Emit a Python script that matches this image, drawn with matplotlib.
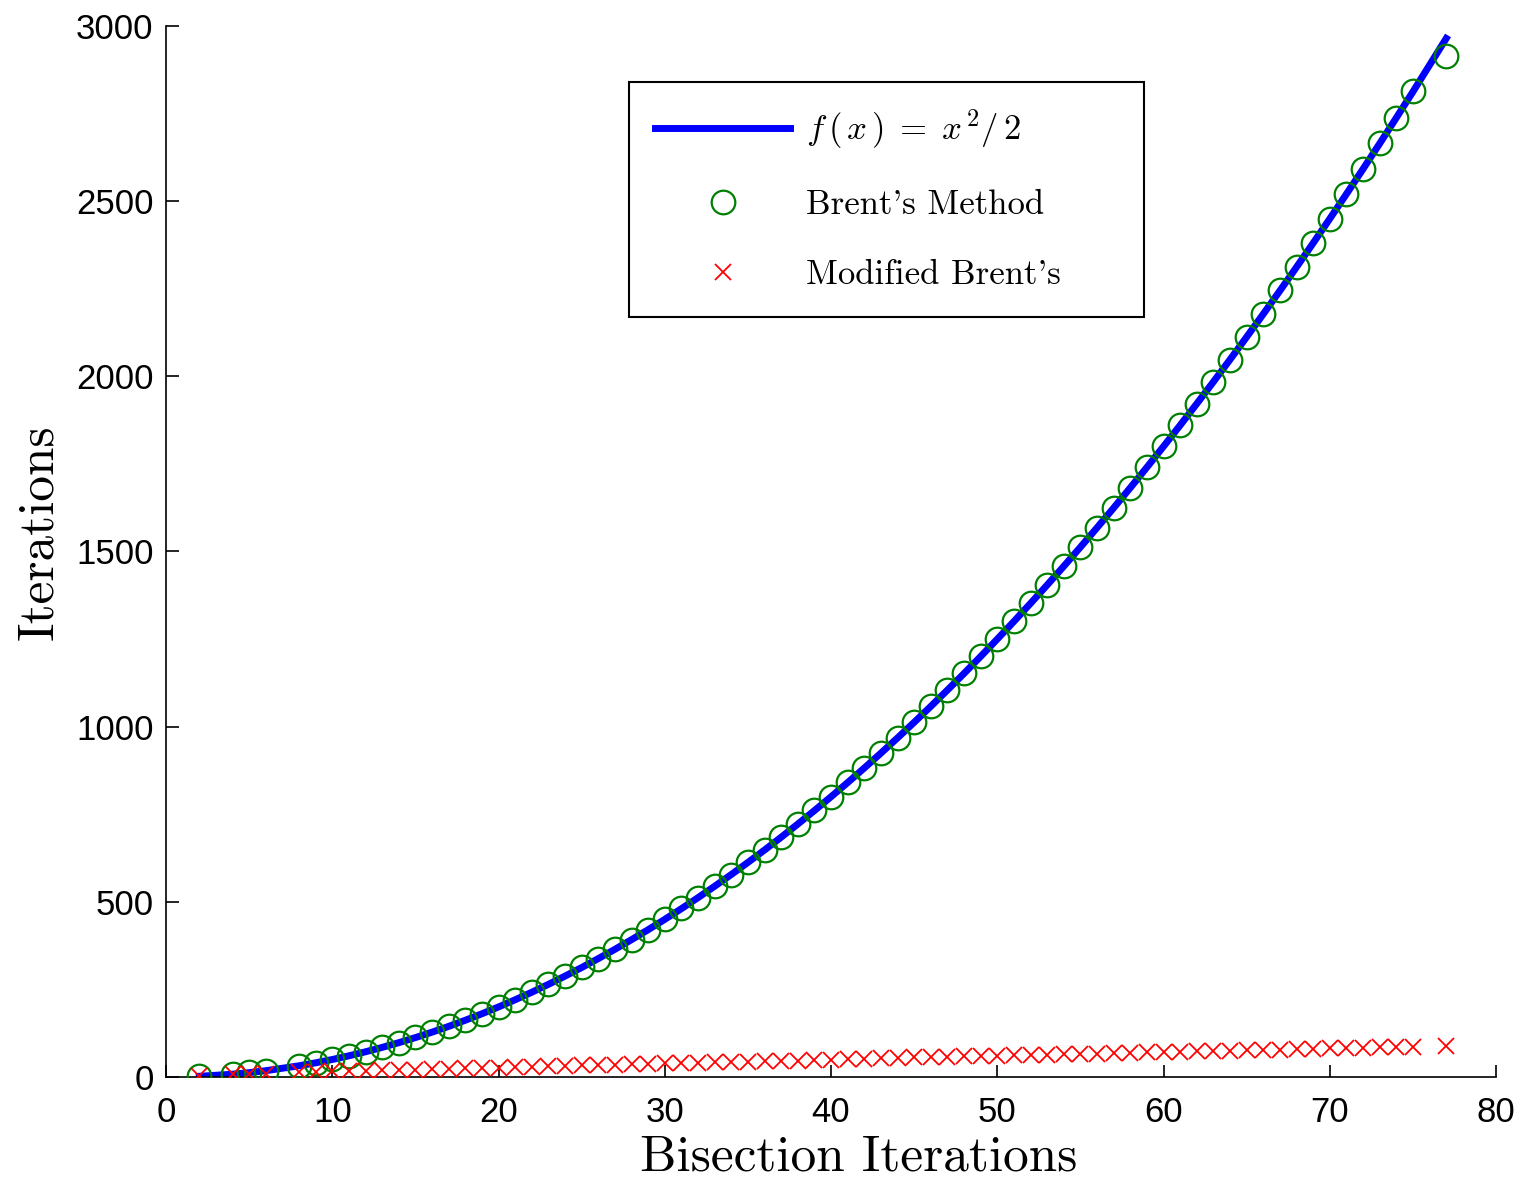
import numpy as np
import matplotlib
matplotlib.use("Agg")
import matplotlib.pyplot as plt

# ---- data ----
bisect_iters = [2, 4, 5, 6, 8, 9, 10, 11, 12, 13, 14, 15, 16, 17, 18, 19, 20,
                21, 22, 23, 24, 25, 26, 27, 28, 29, 30, 31, 32, 33, 34, 35, 36,
                37, 38, 39, 40, 41, 42, 43, 44, 45, 46, 47, 48, 49, 50, 51, 52,
                53, 54, 55, 56, 57, 58, 59, 60, 61, 62, 63, 64, 65, 66, 67, 68,
                69, 70, 71, 72, 73, 74, 75, 77]
brent_iters = [2, 8, 13, 18, 32, 41, 50, 61, 72, 85, 98, 113, 128, 145, 162,
               181, 200, 221, 242, 265, 288, 313, 338, 365, 392, 421, 450, 481,
               512, 545, 578, 613, 648, 685, 722, 761, 800, 841, 882, 925, 968,
               1013, 1058, 1105, 1152, 1201, 1250, 1301, 1352, 1405, 1458, 1513,
               1568, 1625, 1682, 1741, 1800, 1861, 1922, 1985, 2048, 2113, 2178,
               2245, 2312, 2381, 2450, 2521, 2592, 2665, 2738, 2813, 2915]
modified_iters = [3, 8, 9, 10, 13, 14, 16, 17, 18, 19, 20, 21, 22, 24, 25, 26,
                  27, 28, 29, 30, 31, 33, 34, 35, 36, 37, 39, 40, 41, 42, 43,
                  44, 45, 46, 47, 48, 49, 51, 52, 53, 54, 56, 57, 58, 59, 60,
                  61, 62, 63, 64, 65, 66, 67, 68, 69, 70, 71, 72, 73, 74, 75,
                  76, 77, 78, 79, 81, 82, 83, 84, 85, 86, 87, 88]
x_ticks = [0, 10, 20, 30, 40, 50, 60, 70, 80]
y_ticks = [0, 500, 1000, 1500, 2000, 2500, 3000]

x = np.array(bisect_iters, dtype=float)
fx = x ** 2 / 2.0  # the reference curve f(x) = x^2/2 named in the legend

plt.rcParams['mathtext.fontset'] = 'cm'

fig = plt.figure(figsize=(15.26, 11.86), dpi=100)
ax = fig.add_axes([0.1088, 0.0919, 0.8716, 0.8862])

ax.plot(x, fx, color='#0000ff', lw=5, label=r'$f\,(\,x\,)\;=\;x^{\,2}/\,2$', zorder=2)
ax.plot(bisect_iters, brent_iters, linestyle='none', marker='o',
        markersize=17, markerfacecolor='none', markeredgecolor='#008000',
        markeredgewidth=1.6, label="Brent's Method", zorder=3)
ax.plot(bisect_iters, modified_iters, linestyle='none', marker='x',
        markersize=12, markeredgecolor='#ff0000', markeredgewidth=1.3,
        label="Modified Brent's", zorder=4)

ax.set_xlim(0, 80)
ax.set_ylim(0, 3000)
ax.set_xticks(x_ticks)
ax.set_yticks(y_ticks)
ax.spines['top'].set_visible(False)
ax.spines['right'].set_visible(False)
for s in ('left', 'bottom'):
    ax.spines[s].set_linewidth(1.2)
ax.tick_params(direction='in', length=9, width=1.2, labelsize=25)
ax.tick_params(axis='x', pad=14)
ax.tick_params(axis='y', pad=9)
for lbl in ax.get_xticklabels() + ax.get_yticklabels():
    lbl.set_family('Liberation Sans')

ax.set_xlabel('Bisection Iterations', fontsize=37, family='cmr10')
ax.set_ylabel('Iterations', fontsize=37, family='cmr10')
ax.xaxis.set_label_coords(0.521, -0.055)
ax.yaxis.set_label_coords(-0.078, 0.518)

leg = ax.legend(loc='upper left',
                bbox_to_anchor=(0.4122, 0.7336, 0.3375, 0.1973),
                bbox_transform=fig.transFigure, mode='expand',
                fancybox=False, framealpha=1, edgecolor='black',
                handlelength=3.9, handletextpad=0.45, borderpad=0.75,
                labelspacing=1.1, borderaxespad=0,
                prop={'family': 'cmr10', 'size': 25})
leg.get_frame().set_linewidth(1.5)

fig.savefig('out.png', dpi=100)
